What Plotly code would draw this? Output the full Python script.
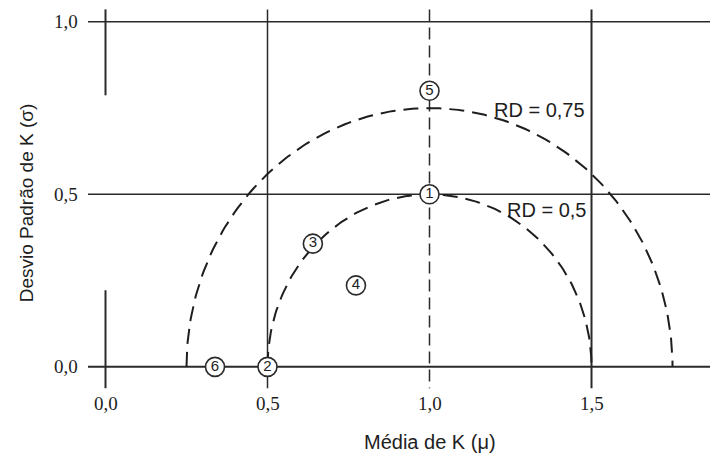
import numpy as np
import plotly.graph_objects as go

# ---- data ----
rd_levels = [0.5, 0.75]
rd_labels = ["RD = 0,5", "RD = 0,75"]
rd_label_x = [1.36, 1.338]
rd_label_y = [0.454, 0.743]

point_ids = ["1", "2", "3", "4", "5", "6"]
point_mu = [1.0, 0.5, 0.64, 0.773, 1.0, 0.338]
point_sigma = [0.5, 0.0, 0.357, 0.236, 0.80, 0.0]

x_ticks = [0.0, 0.5, 1.0, 1.5]
x_ticktext = ["0,0", "0,5", "1,0", "1,5"]
y_ticks = [0.0, 0.5, 1.0]
y_ticktext = ["0,0", "0,5", "1,0"]

ink = "#1e1e1e"
fig = go.Figure()

# RD contour curves (semicircles around mu = 1)
t = np.linspace(np.pi, 0, 200)
for rd in rd_levels:
    fig.add_trace(go.Scatter(
        x=1 + rd * np.cos(t), y=rd * np.sin(t), mode="lines",
        line=dict(color=ink, width=2, dash="15px,8px"),
        hoverinfo="skip", showlegend=False))

# numbered points
fig.add_trace(go.Scatter(
    x=point_mu, y=point_sigma, mode="markers+text", text=point_ids,
    textposition="middle center",
    textfont=dict(family="Liberation Sans", size=15, color="#222"),
    marker=dict(symbol="circle", size=19, color="white",
                line=dict(color="#2a2a2a", width=1.6)),
    hoverinfo="skip", showlegend=False))

shapes = []
y_top, y_bot = 1.036, -0.062
# horizontal grid lines
for yv in y_ticks:
    shapes.append(dict(type="line", xref="paper", yref="y", x0=0, x1=1, y0=yv, y1=yv,
                       line=dict(color="#2a2a2a", width=2 if yv == 0 else 1.5), layer="below"))
# vertical lines
shapes.append(dict(type="line", xref="x", yref="y", x0=0, x1=0, y0=y_top, y1=0.787,
                   line=dict(color="#2a2a2a", width=2), layer="below"))
shapes.append(dict(type="line", xref="x", yref="y", x0=0, x1=0, y0=0.222, y1=y_bot,
                   line=dict(color="#2a2a2a", width=2), layer="below"))
shapes.append(dict(type="line", xref="x", yref="y", x0=0.5, x1=0.5, y0=y_top, y1=y_bot,
                   line=dict(color="#2a2a2a", width=1.5), layer="below"))
shapes.append(dict(type="line", xref="x", yref="y", x0=1.0, x1=1.0, y0=y_top, y1=y_bot,
                   line=dict(color="#2a2a2a", width=1.5, dash="12px,6px"), layer="below"))
shapes.append(dict(type="line", xref="x", yref="y", x0=1.5, x1=1.5, y0=y_top, y1=y_bot,
                   line=dict(color="#2a2a2a", width=2), layer="below"))

PLOT_H = 383
annotations = []
serif = dict(family="Liberation Serif", size=19, color=ink)
for xv, lab in zip(x_ticks, x_ticktext):
    annotations.append(dict(x=xv, y=-12 / PLOT_H, xref="x", yref="paper", text=lab,
                            showarrow=False, font=serif, xanchor="center", yanchor="middle"))
for yv, lab in zip(y_ticks, y_ticktext):
    annotations.append(dict(x=-8 / 630, y=yv, xref="paper", yref="y", text=lab,
                            showarrow=False, font=serif, xanchor="right", yanchor="middle"))
for lab, lx, ly in zip(rd_labels, rd_label_x, rd_label_y):
    annotations.append(dict(x=lx, y=ly, xref="x", yref="y", text=lab, showarrow=False,
                            font=dict(family="Liberation Sans", size=20, color=ink),
                            xanchor="center", yanchor="middle"))
annotations.append(dict(x=(26 - 88) / 630, y=0.49, xref="paper", yref="paper",
                        text="Desvio Padrão de K (σ)", textangle=-90, showarrow=False,
                        font=dict(family="Liberation Sans", size=19, color=ink),
                        xanchor="center", yanchor="middle"))
annotations.append(dict(x=(430 - 88) / 630, y=-(442 - 391) / PLOT_H, xref="paper", yref="paper",
                        text="Média de K (μ)", showarrow=False,
                        font=dict(family="Liberation Sans", size=20, color=ink),
                        xanchor="center", yanchor="middle"))

# page body has an 8px margin, so the figure is sized/offset for it
fig.update_layout(
    width=710, height=449,
    margin=dict(l=80, r=0, t=0, b=66),
    paper_bgcolor="white", plot_bgcolor="white",
    shapes=shapes, annotations=annotations,
    xaxis=dict(range=[-0.054, 1.8904], showticklabels=False,
               showgrid=False, zeroline=False, showline=False, ticks=""),
    yaxis=dict(range=[-0.07, 1.04], showticklabels=False,
               showgrid=False, zeroline=False, showline=False, ticks=""),
)

fig.write_html("out.html")
